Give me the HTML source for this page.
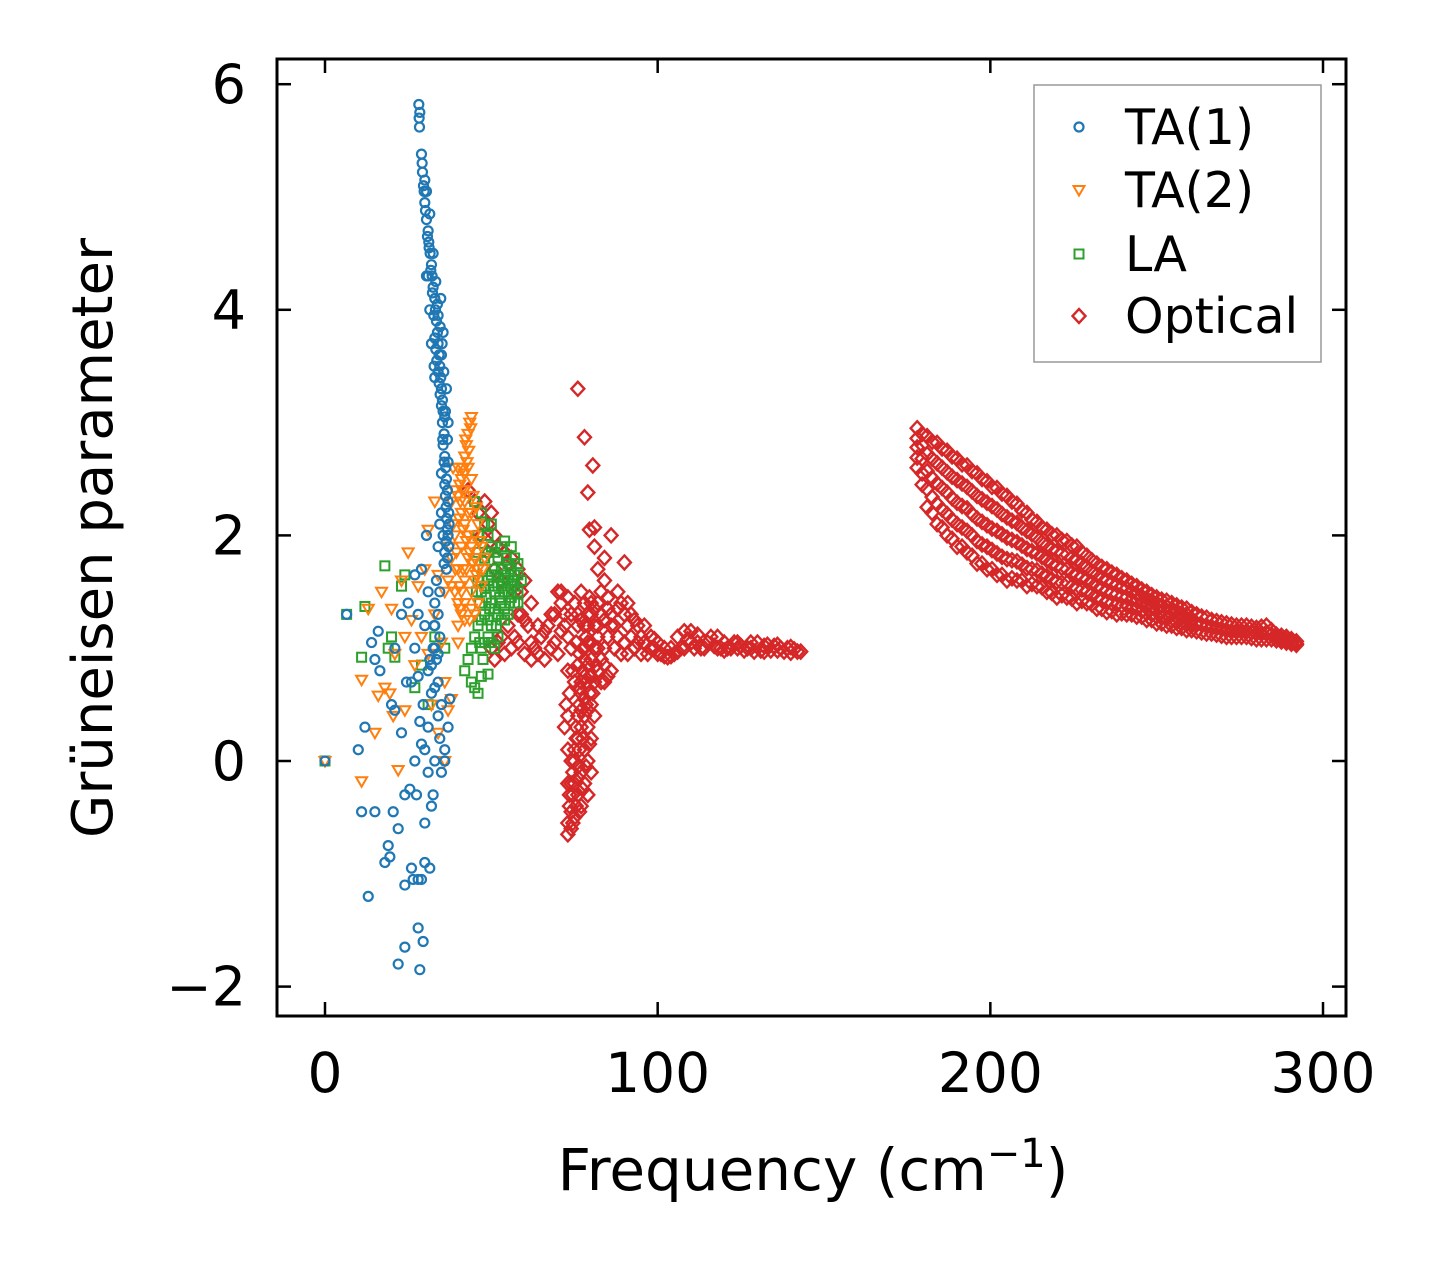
<!DOCTYPE html>
<html><head><meta charset="utf-8"><style>
html,body{margin:0;padding:0;background:#fff;}
svg{display:block;font-family:"DejaVu Sans","Liberation Sans",sans-serif;}
</style></head><body>
<svg id="chart" width="1441" height="1264" viewBox="0 0 1441 1264" xmlns="http://www.w3.org/2000/svg">
<rect width="1441" height="1264" fill="#fff"/>
<g id="marks"></g>
<rect x="277" y="59" width="1069" height="957" fill="none" stroke="#000" stroke-width="3"/>
<g id="ticks"></g>
<text transform="translate(112,538) rotate(-90)" text-anchor="middle" font-size="56">Grüneisen parameter</text>
<text x="813" y="1190" text-anchor="middle" font-size="58">Frequency (cm<tspan font-size="40" dy="-23">−1</tspan><tspan dy="23">)</tspan></text>
<g>
<rect x="1034" y="85" width="287" height="277" fill="#fff" stroke="#999" stroke-width="1.5"/>
<g id="legend-items"></g>
</g>
</svg>
<script>
const xTicks=[0,100,200,300];
const yTicks=[-2,0,2,4,6];
const yTickLabels=["−2","0","2","4","6"];
const seriesNames=["TA(1)","TA(2)","LA","Optical"];
const seriesColors=["#1f77b4","#ff7f0e","#2ca02c","#d62728"];
const ta1=[[28.2,5.82],[28.3,5.7],[28.4,5.62],[29,5.38],[29.3,5.22],[29.6,5.1],[30,4.95],[30.5,4.8],[31,4.7],[31.2,4.6],[31.6,4.5],[32,4.4],[32.2,4.3],[32.5,4.2],[33,4.1],[33.2,4.0],[33.5,3.9],[33.8,3.8],[34,3.7],[34.3,3.6],[34.5,3.5],[34.8,3.4],[35,3.3],[35.3,3.2],[35.5,3.1],[36,3.05],[37,3.0],[35.8,2.9],[35.5,2.8],[36,2.7],[36.3,2.6],[35,2.55],[36.5,2.5],[36.8,2.4],[37,2.3],[37.2,2.2],[37.3,2.1],[37,2.0],[37.2,1.9],[36.8,1.8],[36.5,1.7],[35,2.2],[34,1.9],[33.5,1.6],[33,1.4],[32.8,1.2],[32.5,1.0],[33.5,0.9],[31,0.8],[34,0.95],[30.5,4.3],[31.5,4.0],[32,3.7],[32.8,3.5],[34.8,4.1],[35.5,3.8],[36.5,3.3],[30,5.15],[31,4.3],[33,3.4],
[28.5,5.75],[29.2,5.3],[29.8,5.05],[30.2,4.88],[30.8,4.65],[31.3,4.55],[31.8,4.35],[32.3,4.15],[32.7,3.95],[33,3.75],[33.3,3.65],[33.6,3.55],[34,3.45],[34.3,3.35],[34.6,3.25],[35,3.15],[35.3,3.0],[35.4,2.85],[35.8,2.65],[36,2.45],[36.2,2.35],[36.4,2.25],[36.6,2.15],[36.8,2.05],[36.4,1.95],[36,1.85],[35.8,1.75],[34.5,1.5],[34,1.3],[34.5,1.1],[33,1.0],[32,0.85],[35.5,2.0],[34.5,2.1],[35.7,3.45],[35,3.6],[34,3.95],[33.3,4.25],[32.5,4.5],[31.5,4.85],[30.5,5.05],[33.8,4.05],[34.6,3.85],[35.2,3.7],[36.2,3.1],[36.8,2.85],[37,2.65],
[0,0],[6.5,1.3],[10,0.1],[11,-0.45],[12,0.3],[13,-1.2],[14,1.05],[15,-0.45],[15,0.9],[16,1.15],[16.5,0.8],[18,-0.9],[19,-0.75],[19.5,-0.85],[20,0.5],[20.5,-0.45],[21,0.45],[21,1.0],[22,-0.6],[22,-1.8],[23,0.25],[23,1.3],[24,-0.3],[24,-1.1],[24,-1.65],[24.5,0.7],[25,1.4],[25.5,-0.25],[26,0.7],[26,-0.95],[26.5,-1.05],[27,0.0],[27,1.0],[27.5,-0.3],[28,0.75],[28,-1.05],[28,-1.48],[28.5,-1.85],[29,0.15],[29,-1.05],[29.5,-1.6],[29.5,0.5],[30,-0.55],[30,-0.9],[30,1.2],[31,0.3],[31,-0.1],[31.5,-0.95],[32,-0.4],[32,0.6],[32.5,-0.3],[33,0.0],[33,0.65],[34,0.4],[34.5,0.2],[35,-0.1],[36,0.1],[37,0.3],[37.5,0.55],[27,1.65],[29,1.7],[30.5,2.0],[28,1.3],[31,1.5],[33,1.2],[34,0.7],[35,0.5],[36,0.0],[30,0.1],[28.5,0.35],[31.5,0.9]];
const ta2=[[43.5,3.0],[43,2.9],[42.5,2.8],[42,2.7],[41.5,2.6],[41,2.5],[40.5,2.45],[40,2.35],[41,2.2],[42,2.1],[43,2.0],[44,1.9],[45,1.8],[46,1.7],[43,1.8],[42,1.6],[41,1.5],[40,1.4],[44,1.5],[45,1.6],[38,2.3],[39,2.0],[38,1.8],[37,1.6],[40,1.7],[41,1.9],[42,2.3],[44,2.2],[46,2.1],[47,1.9],[48,1.8],[45,2.0],[44,2.5],[43,2.6],[42,2.4],[39,1.5],[40,1.2],[41,1.3],[42,1.4],[36,1.5],[44,3.05],[42.3,2.85],[40.3,2.15],[39.2,1.7],[46,1.4],[47,1.55],[43.5,1.25],
[43.8,2.95],[43.2,2.75],[42.7,2.65],[41.8,2.55],[41.2,2.4],[40.7,2.3],[41.5,2.05],[42.5,1.95],[43.5,1.85],[44.5,1.75],[45.5,1.65],[42.5,1.7],[41.5,1.7],[40.5,1.55],[39.5,1.85],[38.5,2.1],[39,2.4],[40,2.6],[43,2.2],[44.5,2.35],[45.5,2.25],[46.5,1.95],[47.5,1.7],[44,1.35],[45,1.3],[42,1.25],[40.5,1.35],[38,1.55],[37.5,1.9],[38.5,2.6],
[0,0],[11,-0.18],[11,0.72],[13,1.35],[15,0.25],[16,0.58],[17,1.5],[18,0.65],[19.5,0.6],[20,1.35],[20.5,0.4],[21,0.95],[22,-0.08],[23,1.6],[24,1.1],[24,0.45],[25,1.85],[26,1.25],[27,0.85],[28,1.55],[29,1.1],[30,1.7],[31,2.05],[32,0.5],[33,1.3],[34,0.25],[36,0.0],[36,0.7],[37,0.45],[38,0.55],[40,1.05],[31,0.95],[35,1.05],[33,2.3],[34,1.65]];
const la=[[0,0],[6.5,1.3],[11,0.92],[12,1.37],[18,1.73],[19,1.0],[20,1.1],[21,0.92],[23,1.55],[24,1.65],[27,0.65],[29,0.85],[31,0.5],[33,1.1],[36,1.0],[42,0.8],[43,0.9],[44,0.7],[45,0.65],[46,0.6],[47,0.75],[49,0.77],[45,2.3],[46,2.0],[46,1.2],[47,1.0],[47,1.5],[48,1.3],[48,1.8],[48,2.1],[49,1.1],[49,1.6],[50,1.4],[50,1.9],[50,1.2],[51,1.7],[51,1.5],[51,1.0],[52,1.3],[52,1.8],[52,1.55],[53,1.4],[53,1.7],[53,1.9],[54,1.5],[54,1.65],[54,1.25],[55,1.6],[55,1.75],[56,1.45],[56,1.7],[57,1.55],[57,1.8],[58,1.65],[58,1.5],[46.5,1.4],[47.5,1.7],[49.5,1.35],[50.5,1.55],[51.5,1.2],[52.5,1.45],[53.5,1.6],[54.5,1.8],[55.5,1.4],[56.5,1.6],[44,1.0],[45,1.1],[48.5,1.45],[47,1.25],[49,2.0],
[46,1.6],[46,1.85],[47,2.2],[48,1.55],[48,1.05],[49,1.85],[49,1.25],[50,1.65],[50,1.05],[51,1.85],[51,1.35],[52,1.65],[52,1.1],[53,1.25],[53,1.55],[54,1.35],[54,1.95],[55,1.5],[55,1.3],[56,1.9],[56,1.55],[57,1.4],[57,1.65],[58,1.75],[58,1.4],[59,1.6],[45.5,1.5],[46.5,1.05],[47.5,0.9],[50,2.1]];
const optical=[[43,2.4],[45,2.3],[46,2.2],[48,2.3],[49,2.1],[50,2.2],[51,2.0],[52,1.9],[54,1.85],[55,1.75],[56,1.8],[58,1.7],[60,1.6],[62,1.4],[50,1.0],[51,0.9],[53,1.1],[55,1.2],[57,1.1],[59,1.3],[61,1.2],[63,1.0],[65,1.1],[67,1.2],[69,1.3],[71,1.4],[70,1.5],[72,1.2],[74,1.3],[66,0.9],[68,1.0],[70,0.95],[60,0.95],[58,1.05],
[76,1.3],[78,1.2],[80,1.3],[82,1.4],[84,1.25],[86,1.3],[88,1.35],[90,1.3],[92,1.3],[94,1.2],[96,1.2],[98,1.1],[100,1.05],[102,1.0],[104,1.0],[106,1.1],[108,1.15],[110,1.15],[112,1.05],[114,1.0],[116,1.1],[118,1.1],[120,1.05],[122,1.0],[124,1.0],[126,0.98],[128,1.0],[130,1.05],[132,1.02],[134,0.98],[136,0.98],[138,0.97],[140,0.96],[142,0.97],[87,1.0],[89,0.95],[91,0.95],[93,1.0],[95,0.95],[97,0.95],[99,1.0],[101,0.95],[103,0.92],[105,0.95],[107,1.0],[109,1.08],[111,1.0],[113,1.0],[117,1.02],[119,1.0],[121,1.0],[123,1.05],[125,1.02],[127,1.0],[129,0.97],[131,0.98],[133,1.03],[135,1.02],[137,1.0],[139,1.0],[141,0.99],[84,1.0],[85,1.1],[82,1.1],[86,0.8],[84,0.7],[83,0.9],
[73,-0.65],[73,-0.55],[74,-0.45],[73.5,-0.3],[74,-0.2],[74.5,-0.1],[75,0.0],[75,0.1],[76,0.2],[76,-0.05],[75.5,0.3],[76,0.4],[76.5,0.5],[77,0.6],[77,0.7],[77.5,0.8],[78,0.9],[78,1.0],[78.5,1.1],[79,1.2],[79,1.3],[80,1.4],[79,-0.3],[78,-0.2],[77,-0.1],[77,-0.4],[75,-0.5],[76,-0.3],[78,0.1],[79,0.3],[80,0.5],[81,0.7],[82,0.8],[80,0.2],[79,0.0],[78,0.4],[77,0.3],[80,0.9],[81,1.0],[79.5,0.6],[78.5,0.5],[74,0.0],[73,0.1],[72,0.3],[72.5,0.5],[73,0.8],[74,1.0],[72,1.3],[71,1.5],[75,1.4],[76,1.2],[77,1.5],[76.5,0.95],[78,0.75],[80,0.75],[81,0.4],[79,0.85],[82,1.2],[83,1.5],[85,1.45],
[74,-0.6],[73.5,-0.4],[74.5,-0.3],[75,-0.2],[75.5,-0.4],[76,-0.15],[75.5,0.2],[76.5,0.1],[77,0.45],[77.5,0.2],[78,0.55],[78.5,0.7],[79,0.45],[79.5,0.75],[80,1.05],[80.5,0.6],[81,1.2],[81.5,0.85],[82,1.0],[83,0.7],[84,0.85],[85,0.75],[86,1.2],[83,1.3],[81,1.35],[79.5,1.45],[78,1.4],[77,1.25],[75.5,1.05],[74.5,0.8],[73.5,0.6],[73,0.4],[75,0.7],[76,0.85],[76.5,0.65],[77.5,1.0],[79,1.05],[80,-0.1],[79.5,0.15],[78.5,-0.05],[77.5,-0.25],[76.5,-0.45],[74.5,-0.55],[73,-0.2],
[62,1.05],[64,0.95],[64,1.2],[66,1.15],[68,1.3],[69,1.05],[71,1.15],[73,1.1],[73,1.45],[56,1.0],[54,0.95],[58,1.3],[60,1.25],[62,0.9],[52,1.05],[53,1.6],[51,1.7],[49,1.85],[47,2.0],[57,1.5],[59,1.5],[88,1.1],[90,1.05],[92,1.1],[94,1.05],[96,1.05],[98,1.0],[100,0.95],[102,0.93],[104,0.93],[106,0.97],[108,1.0],[110,1.05],[112,1.12],[115,1.05],[118,1.0],[120,0.98],[124,1.05],[128,1.05],[132,0.97],[136,1.03],[140,1.01],[143,0.97],[87,1.2],[91,1.2],[95,1.1],[99,1.08],[85,1.35],[89,1.4],[93,1.25],
[76,3.3],[78,2.87],[79,2.38],[80.5,2.62],[79.5,2.05],[81,2.07],[86,2.0],[90,1.76],[82,1.7],[84,1.6],[88,1.5],[91,1.4],[84,1.8],[81,1.9]];
const opticalBand=[[178,[2.95,2.86,2.78,2.69,2.6]],[181,[2.88,2.72,2.57,2.41,2.25]],[184,[2.82,2.64,2.46,2.28,2.1]],[187,[2.75,2.56,2.38,2.19,2.0]],[190,[2.68,2.49,2.29,2.10,1.9]],[193,[2.62,2.43,2.24,2.04,1.85]],[196,[2.55,2.35,2.15,1.95,1.75]],[199,[2.48,2.29,2.09,1.90,1.7]],[202,[2.42,2.23,2.04,1.84,1.65]],[205,[2.35,2.16,1.98,1.79,1.6]],[208,[2.28,2.11,1.94,1.77,1.6]],[211,[2.2,2.04,1.88,1.71,1.55]],[214,[2.12,1.98,1.84,1.69,1.55]],[217,[2.05,1.91,1.78,1.64,1.5]],[220,[2.0,1.86,1.73,1.59,1.45]],[223,[1.95,1.83,1.7,1.58,1.45]],[226,[1.9,1.78,1.65,1.53,1.4]],[229,[1.82,1.72,1.61,1.51,1.4]],[232,[1.75,1.65,1.55,1.45,1.35]],[235,[1.7,1.6,1.51,1.41,1.32]],[238,[1.65,1.56,1.48,1.39,1.3]],[241,[1.6,1.53,1.45,1.38,1.3]],[244,[1.55,1.48,1.42,1.35,1.28]],[247,[1.5,1.44,1.38,1.31,1.25]],[250,[1.45,1.4,1.34,1.28,1.22]],[253,[1.42,1.37,1.31,1.26,1.2]],[256,[1.38,1.33,1.28,1.23,1.18]],[259,[1.35,1.3,1.26,1.21,1.16]],[262,[1.3,1.22,1.15]],[265,[1.27,1.2,1.13]],[268,[1.24,1.18,1.12]],[271,[1.22,1.16,1.1]],[274,[1.2,1.15,1.1]],[277,[1.2,1.15,1.1]],[280,[1.18,1.13,1.08]],[283,[1.2,1.14,1.08]],[286,[1.12,1.1,1.07]],[289,[1.1,1.07,1.05]],[292,[1.06,1.04,1.03]]];
const opticalBand2=[[179.5,[2.9,2.8,2.68,2.55,2.45]],[182.5,[2.83,2.68,2.51,2.34,2.2]],[185.5,[2.77,2.6,2.42,2.23,2.07]],[188.5,[2.7,2.52,2.33,2.14,1.97]],[191.5,[2.63,2.46,2.26,2.07,1.9]],[194.5,[2.57,2.39,2.19,2.0,1.82]],[197.5,[2.5,2.32,2.12,1.92,1.75]],[200.5,[2.43,2.26,2.06,1.87,1.7]],[203.5,[2.37,2.19,2.01,1.81,1.65]],[206.5,[2.3,2.13,1.96,1.78,1.62]],[209.5,[2.22,2.07,1.91,1.74,1.6]],[212.5,[2.14,2.01,1.86,1.7,1.57]],[215.5,[2.07,1.94,1.81,1.66,1.54]],[218.5,[2.01,1.88,1.75,1.61,1.49]],[221.5,[1.96,1.84,1.71,1.58,1.47]],[224.5,[1.91,1.8,1.67,1.55,1.44]],[227.5,[1.85,1.75,1.63,1.52,1.42]],[230.5,[1.78,1.68,1.58,1.48,1.39]],[233.5,[1.72,1.62,1.53,1.43,1.35]],[236.5,[1.67,1.58,1.49,1.4,1.33]],[239.5,[1.62,1.54,1.46,1.38,1.31]],[242.5,[1.57,1.5,1.43,1.36,1.3]],[245.5,[1.52,1.46,1.4,1.33,1.28]],[248.5,[1.47,1.42,1.36,1.3,1.25]],[251.5,[1.43,1.38,1.32,1.27,1.22]],[254.5,[1.4,1.35,1.3,1.24,1.2]],[257.5,[1.36,1.31,1.27,1.22,1.18]],[260.5,[1.32,1.26,1.2,1.16]],[263.5,[1.28,1.21,1.14]],[266.5,[1.25,1.19,1.13]],[269.5,[1.23,1.17,1.11]],[272.5,[1.21,1.15,1.1]],[275.5,[1.2,1.15,1.1]],[278.5,[1.19,1.14,1.09]],[281.5,[1.19,1.13,1.08]],[284.5,[1.16,1.12,1.08]],[287.5,[1.11,1.08,1.06]],[290.5,[1.08,1.05,1.04]]];

const NS="http://www.w3.org/2000/svg";
const X0=277,X1=1346,Y0=59,Y1=1016;
function sx(v){return 325+v*3.3267;}
function sy(v){return 761-v*112.8;}
function mk(tag,attrs,parent){const e=document.createElementNS(NS,tag);for(const k in attrs)e.setAttribute(k,attrs[k]);parent.appendChild(e);return e;}
function marker(kind,cx,cy,color,parent){
  let e;
  if(kind===0){e=mk('circle',{cx:cx,cy:cy,r:4.5,fill:'none',stroke:color,'stroke-width':2.2},parent);}
  else if(kind===1){e=mk('polygon',{points:`${cx-5.5},${cy-4} ${cx+5.5},${cy-4} ${cx},${cy+5.5}`,fill:'none',stroke:color,'stroke-width':2},parent);}
  else if(kind===2){e=mk('rect',{x:cx-4.5,y:cy-4.5,width:9,height:9,fill:'none',stroke:color,'stroke-width':2},parent);}
  else {e=mk('polygon',{points:`${cx},${cy-7} ${cx+6.5},${cy} ${cx},${cy+7} ${cx-6.5},${cy}`,fill:'none',stroke:color,'stroke-width':2.4},parent);}
  return e;
}
const marks=document.getElementById('marks');
const allSeries=[ta1,ta2,la,optical];
const slugs=['ta1','ta2','la','optical'];
[3,2,1,0].forEach(function(si){
  const g=mk('g',{},marks);
  
  
  allSeries[si].forEach(function(p){
    const m=marker(si,sx(p[0]),sy(p[1]),seriesColors[si],g);
    
    
  });
  if(si===3){
    opticalBand.concat(opticalBand2).forEach(function(col){
      col[1].forEach(function(y){
        const m=marker(3,sx(col[0]),sy(y),seriesColors[3],g);
        
        
      });
    });
  }
});
const ticks=document.getElementById('ticks');
xTicks.forEach(function(t){
  const x=sx(t);
  const l1=mk('line',{x1:x,y1:Y1,x2:x,y2:Y1-14,stroke:'#000','stroke-width':2.5},ticks);
  
  
  mk('line',{x1:x,y1:Y0,x2:x,y2:Y0+14,stroke:'#000','stroke-width':2.5},ticks);
  const tx=mk('text',{x:x,y:1092,'text-anchor':'middle','font-size':55},ticks);
  tx.textContent=String(t);
  
  
});
yTicks.forEach(function(t,i){
  const y=sy(t);
  const l1=mk('line',{x1:X0,y1:y,x2:X0+14,y2:y,stroke:'#000','stroke-width':2.5},ticks);
  
  
  mk('line',{x1:X1,y1:y,x2:X1-14,y2:y,stroke:'#000','stroke-width':2.5},ticks);
  const tx=mk('text',{x:246,y:y+19,'text-anchor':'end','font-size':54},ticks);
  tx.textContent=yTickLabels[i];
  
  
});
const leg=document.getElementById('legend-items');
const legY=[127,190,254,316];
seriesNames.forEach(function(n,i){
  const g=mk('g',{},leg);
  
  
  marker(i,1079,legY[i],seriesColors[i],g);
  const t=mk('text',{x:1125,y:legY[i]+17,'font-size':49},g);
  t.textContent=n;
});
</script>
</body></html>
